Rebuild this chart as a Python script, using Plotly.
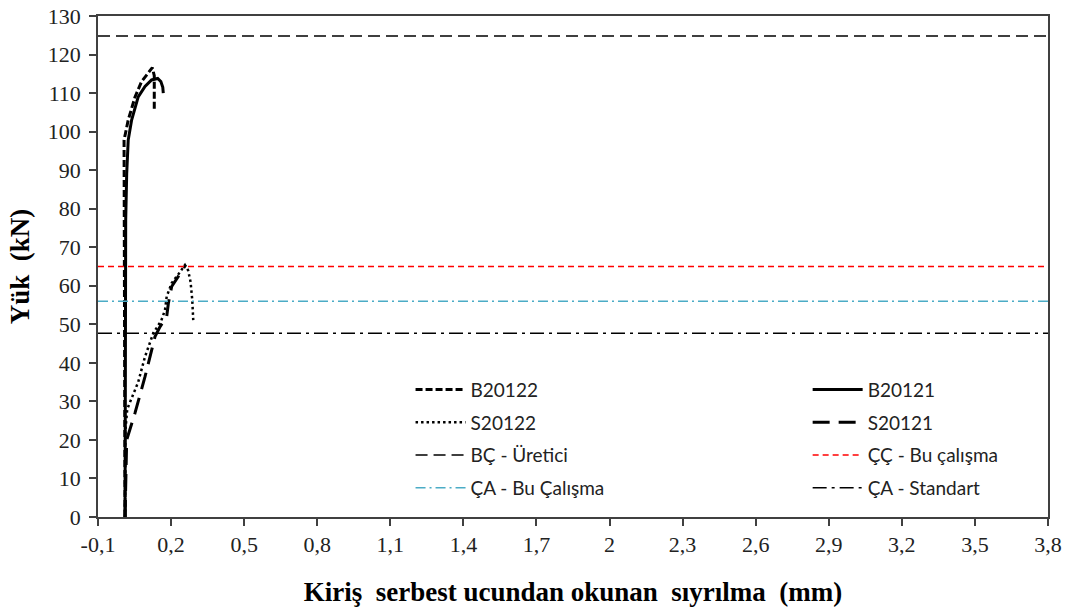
import plotly.graph_objects as go

# ---- data ----
b20122_x = [0.011, 0.010, 0.007, 0.024, 0.052, 0.079, 0.104, 0.123, 0.131, 0.131]
b20122_y = [0, 80, 97.8, 103, 109, 113, 115.2, 116.6, 114.5, 105.6]

b20121_x = [0.011, 0.012, 0.0137, 0.0178, 0.024, 0.038, 0.065, 0.093, 0.12, 0.145, 0.158, 0.166, 0.168]
b20121_y = [0, 40, 77, 89, 97.8, 103, 109, 111.7, 113.4, 113.8, 113.0, 111.5, 110]

s20122_x = [0.011, 0.012, 0.02, 0.045, 0.065, 0.093, 0.127, 0.16, 0.175, 0.182, 0.2025, 0.23, 0.257, 0.27, 0.28, 0.287, 0.291]
s20122_y = [0, 22, 28, 32, 35, 41.6, 47.7, 51, 53.7, 57.2, 60.7, 63, 65.4, 64, 61, 56.3, 51.1]

s20121_x = [0.011, 0.0178, 0.052, 0.093, 0.134, 0.155, 0.182, 0.189, 0.2025, 0.244, 0.26]
s20121_y = [0, 20, 27, 36.4, 46.8, 49.4, 52, 55.5, 59.8, 64.1, 65.4]

ref_names = ["BÇ - Üretici", "ÇÇ - Bu çalışma", "ÇA - Bu Çalışma", "ÇA - Standart"]
ref_values = [124.8, 65.0, 56.0, 47.7]
x_span = [-0.1, 3.8]

x_tickvals = [-0.1, 0.2, 0.5, 0.8, 1.1, 1.4, 1.7, 2.0, 2.3, 2.6, 2.9, 3.2, 3.5, 3.8]
x_ticktext = ["-0,1", "0,2", "0,5", "0,8", "1,1", "1,4", "1,7", "2", "2,3", "2,6", "2,9", "3,2", "3,5", "3,8"]

SERIF = "Liberation Serif, Times New Roman, serif"

fig = go.Figure()

def add(x, y, name, color, width, dash, legend, group):
    fig.add_trace(go.Scatter(x=x, y=y, mode="lines", name=name,
                             line=dict(color=color, width=width, dash=dash),
                             legend=legend, legendgroup=group))

ref_styles = [
    ("#000000", 1.5, "12px,6px", "legend", "g3"),
    ("#FF0000", 1.5, "6px,4px", "legend2", "g7"),
    ("#4BACC6", 1.5, "10px,4px,2px,4px", "legend", "g4"),
    ("#000000", 1.5, "14px,5px,3px,5px", "legend2", "g8"),
]

add(b20122_x, b20122_y, "B20122", "#000000", 3, "7px,3px", "legend", "g1")
add(s20122_x, s20122_y, "S20122", "#000000", 2.5, "2.5px,3px", "legend", "g2")
add(b20121_x, b20121_y, "B20121", "#000000", 3, "solid", "legend2", "g5")
add(s20121_x, s20121_y, "S20121", "#000000", 3, "17px,9px", "legend2", "g6")
for nm, v, st in zip(ref_names, ref_values, ref_styles):
    add(x_span, [v, v], nm, st[0], st[1], st[2], st[3], st[4])

leg_common = dict(bgcolor="rgba(0,0,0,0)", font=dict(family="Lato", size=19, color="#222"),
                  itemwidth=50, tracegroupgap=5, yanchor="top", xanchor="left",
                  orientation="v", itemclick=False)

fig.update_layout(
    width=1070, height=615,
    margin=dict(l=98, r=22, t=16, b=98, autoexpand=False),
    plot_bgcolor="white", paper_bgcolor="white",
    showlegend=True,
    legend=dict(x=0.329, y=0.292, **leg_common),
    legend2=dict(x=0.747, y=0.292, **leg_common),
    xaxis=dict(range=x_span, tickvals=x_tickvals, ticktext=x_ticktext, automargin=False,
               showgrid=False, zeroline=False, showline=True, mirror=True,
               linecolor="#404040", linewidth=1.5, ticks="outside", ticklen=7,
               tickcolor="#404040", tickwidth=1.5,
               tickfont=dict(family=SERIF, size=22, color="#222"),
               title=dict(text="Kiriş  serbest ucundan okunan  sıyrılma  (mm)",
                          font=dict(family=SERIF, size=27, color="#000", weight="bold"),
                          standoff=26)),
    yaxis=dict(range=[0, 130], dtick=10, tick0=0, automargin=False,
               showgrid=False, zeroline=False, showline=True, mirror=True,
               linecolor="#404040", linewidth=1.5, ticks="outside", ticklen=7,
               tickcolor="#404040", tickwidth=1.5, ticklabelstandoff=4,
               tickfont=dict(family=SERIF, size=22, color="#222"),
               title=dict(text="Yük  (kN)",
                          font=dict(family=SERIF, size=27, color="#000", weight="bold"),
                          standoff=10)),
)

fig.write_html("out.html")
